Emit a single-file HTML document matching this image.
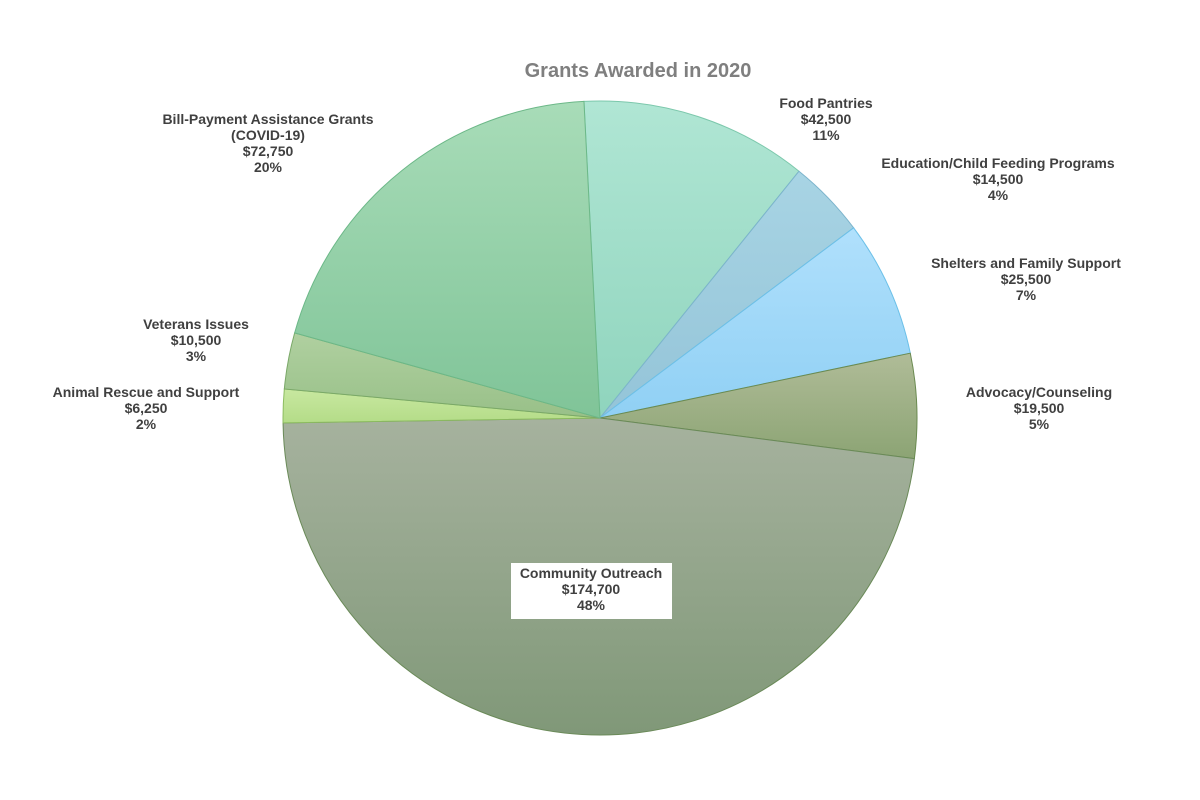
<!DOCTYPE html>
<html><head><meta charset="utf-8"><style>
body{margin:0;background:#fff;}
svg{display:block;font-family:"Liberation Sans",Arial,sans-serif;}
.lbl{font-size:14px;font-weight:bold;fill:#404040;}
</style></head><body>
<svg id="chart" width="1200" height="800">
<defs>
<linearGradient id="g0" x1="0" y1="0" x2="0" y2="1"><stop offset="0" stop-color="#b0e6d4"/><stop offset="1" stop-color="#8fd4bd"/></linearGradient>
<linearGradient id="g1" x1="0" y1="0" x2="0" y2="1"><stop offset="0" stop-color="#a8d4e4"/><stop offset="1" stop-color="#94c4d8"/></linearGradient>
<linearGradient id="g2" x1="0" y1="0" x2="0" y2="1"><stop offset="0" stop-color="#b0e0fc"/><stop offset="1" stop-color="#90d0f4"/></linearGradient>
<linearGradient id="g3" x1="0" y1="0" x2="0" y2="1"><stop offset="0" stop-color="#b0bc98"/><stop offset="1" stop-color="#8ca474"/></linearGradient>
<linearGradient id="g4" x1="0" y1="0" x2="0" y2="1"><stop offset="0" stop-color="#a6b29e"/><stop offset="1" stop-color="#809878"/></linearGradient>
<linearGradient id="g5" x1="0" y1="0" x2="0" y2="1"><stop offset="0" stop-color="#c8e8a0"/><stop offset="1" stop-color="#b4dc88"/></linearGradient>
<linearGradient id="g6" x1="0" y1="0" x2="0" y2="1"><stop offset="0" stop-color="#b0d0a0"/><stop offset="1" stop-color="#98c088"/></linearGradient>
<linearGradient id="g7" x1="0" y1="0" x2="0" y2="1"><stop offset="0" stop-color="#a8dcb8"/><stop offset="1" stop-color="#80c498"/></linearGradient>
</defs>
<text x="638" y="77" text-anchor="middle" font-size="20" font-weight="bold" fill="#7f7f7f">Grants Awarded in 2020</text>
<g id="slices"></g>
<rect x="511" y="563" width="161" height="56" fill="#fff"/>
<g id="labels"></g>
</svg>
<script>
const categories=["Food Pantries","Education/Child Feeding Programs","Shelters and Family Support","Advocacy/Counseling","Community Outreach","Animal Rescue and Support","Veterans Issues","Bill-Payment Assistance Grants"];
const values=[42500,14500,25500,19500,174700,6250,10500,72750];
const valueLabels=["$42,500","$14,500","$25,500","$19,500","$174,700","$6,250","$10,500","$72,750"];
const pctLabels=["11%","4%","7%","5%","48%","2%","3%","20%"];
const cx=600,cy=418,r=317,start=-2.9;
const strokes=["#7cc8ac","#7cb4cc","#6cc0e8","#6a8a50","#6a8a58","#8cbc60","#7aa868","#6cb888"];
const total=values.reduce((a,b)=>a+b,0);
const ns="http://www.w3.org/2000/svg";
const sg=document.getElementById('slices');
let a=start;
function pt(d){const t=d*Math.PI/180;return [cx+r*Math.sin(t),cy-r*Math.cos(t)];}
values.forEach((v,i)=>{
 const sweep=v/total*360;const p1=pt(a),p2=pt(a+sweep);
 const p=document.createElementNS(ns,'path');
 p.setAttribute('d',`M${cx},${cy}L${p1[0]},${p1[1]}A${r},${r} 0 ${sweep>180?1:0} 1 ${p2[0]},${p2[1]}Z`);
 p.setAttribute('fill',`url(#g${i})`);p.setAttribute('stroke',strokes[i]);p.setAttribute('stroke-width','1');
 
 
 sg.appendChild(p);a+=sweep;
});
const labelPos=[[826,108],[998,168],[1026,268],[1039,397],[591,578],[146,397],[196,329],[268,124]];
const lg=document.getElementById('labels');
labelPos.forEach((pos,i)=>{
 const lines=i===7?["Bill-Payment Assistance Grants","(COVID-19)",valueLabels[i],pctLabels[i]]:[categories[i],valueLabels[i],pctLabels[i]];
 const t=document.createElementNS(ns,'text');
 t.setAttribute('class','lbl');t.setAttribute('text-anchor','middle');
 
 
 lines.forEach((s,j)=>{const ts=document.createElementNS(ns,'tspan');ts.setAttribute('x',pos[0]);ts.setAttribute('y',pos[1]+j*16);ts.textContent=s;t.appendChild(ts);});
 lg.appendChild(t);
});
</script>
</body></html>
